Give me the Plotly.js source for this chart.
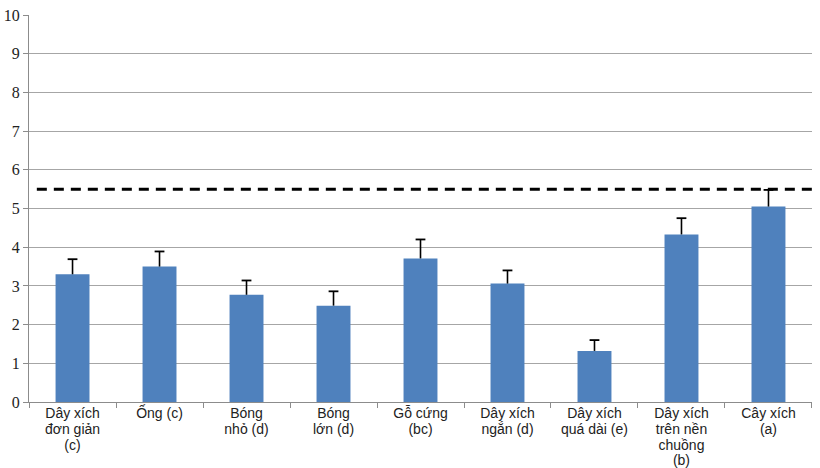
<!DOCTYPE html>
<html>
<head>
<meta charset="utf-8">
<script src="https://cdn.plot.ly/plotly-3.0.1.min.js"></script>
<style>html,body{margin:0;padding:0;background:#fff;}#chart{width:820px;height:468px;}</style>
</head>
<body>
<div id="chart"></div>
<script>
const categories = [
  "Dây xích<br>đơn giản<br>(c)",
  "Ống (c)",
  "Bóng<br>nhỏ (d)",
  "Bóng<br>lớn (d)",
  "Gỗ cứng<br>(bc)",
  "Dây xích<br>ngắn (d)",
  "Dây xích<br>quá dài (e)",
  "Dây xích<br>trên nền<br>chuồng<br>(b)",
  "Cây xích<br>(a)"
];
const means = [3.30, 3.50, 2.77, 2.49, 3.71, 3.06, 1.32, 4.33, 5.05];
const errors = [0.39, 0.39, 0.37, 0.37, 0.49, 0.34, 0.28, 0.42, 0.43];
const threshold = 5.5;
const yTicks = [0, 1, 2, 3, 4, 5, 6, 7, 8, 9, 10];

// tick labels: slightly larger glyphs inside a span, line spacing from the base font
const tickLabels = categories.map(c =>
  c.split('<br>').map(s => '<span style="font-size:14px">' + s + '</span>').join('<br>'));

const bars = {
  type: 'bar',
  x: categories,
  y: means,
  marker: {color: '#4F81BD'},
  hoverinfo: 'none'
};

// one-sided (upper) error bars: stems from bar top up to mean + error
const stemX = [], stemY = [];
categories.forEach((c, i) => {
  stemX.push(c, c, null);
  stemY.push(means[i], means[i] + errors[i], null);
});
const stems = {
  type: 'scatter', mode: 'lines',
  x: stemX, y: stemY,
  line: {color: '#000', width: 1.6},
  connectgaps: false,
  hoverinfo: 'none'
};
const caps = {
  type: 'scatter', mode: 'markers',
  x: categories,
  y: means.map((m, i) => m + errors[i]),
  marker: {symbol: 'line-ew-open', size: 7, color: '#000', line: {color: '#000', width: 1.8}},
  hoverinfo: 'none'
};

const layout = {
  width: 820, height: 468,
  margin: {l: 29, r: 8, t: 15, b: 66},
  paper_bgcolor: '#fff', plot_bgcolor: '#fff',
  bargap: 0.61,
  showlegend: false,
  xaxis: {
    type: 'category',
    tickvals: categories,
    ticktext: tickLabels,
    showline: true, linecolor: '#8c8c8c', linewidth: 1,
    ticks: 'outside', ticklen: 5, tickcolor: '#8c8c8c',
    tickson: 'boundaries',
    ticklabelstandoff: 1,
    showgrid: false,
    tickfont: {family: 'Liberation Sans, Arial, sans-serif', size: 12, color: '#222'}
  },
  yaxis: {
    range: [0, 10],
    tickvals: yTicks,
    ticktext: yTicks.map(String),
    showline: true, linecolor: '#8c8c8c', linewidth: 1,
    ticks: 'outside', ticklen: 5, tickcolor: '#8c8c8c',
    showgrid: true, gridcolor: '#a6a6a6', gridwidth: 1,
    zeroline: false,
    tickfont: {family: 'Liberation Serif, Times New Roman, serif', size: 16, color: '#222'}
  },
  shapes: [{
    type: 'line', xref: 'paper', yref: 'y',
    x0: 0.01, x1: 1.008, y0: threshold, y1: threshold,
    line: {color: '#000', width: 3, dash: '10px,7px'}
  }]
};

Plotly.newPlot('chart', [bars, stems, caps], layout, {displayModeBar: false, staticPlot: true});
</script>
</body>
</html>
